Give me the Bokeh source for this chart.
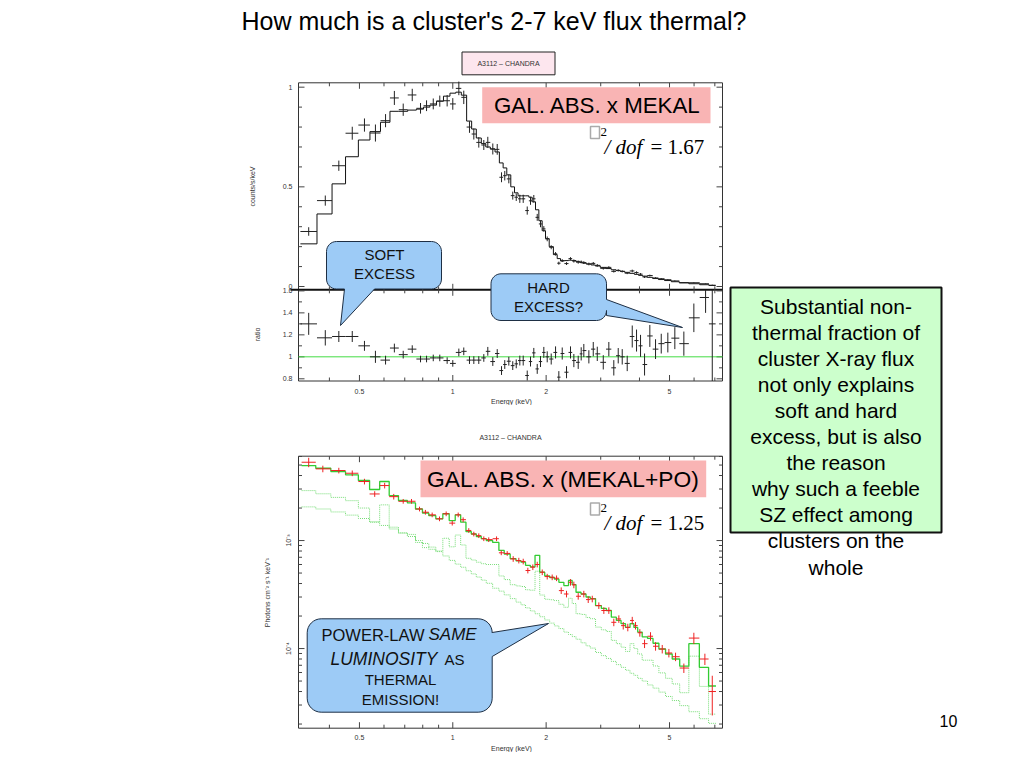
import math
from bokeh.plotting import figure
from bokeh.models import Range1d, LogScale, LinearScale
from bokeh.embed import file_html
from bokeh.resources import INLINE
from bokeh.core.properties import value

# ====================== DATA ======================
# Upper panel (counts/s/keV) and ratio panel share one energy binning (keV, bin centres)
E_bins = [0.343, 0.388, 0.429, 0.474, 0.519, 0.563, 0.607, 0.648, 0.692, 0.740,
          0.787, 0.823, 0.865, 0.908, 0.959, 1.000, 1.046, 1.085, 1.132, 1.169,
          1.213, 1.259, 1.297, 1.346, 1.391, 1.436, 1.471, 1.516, 1.561, 1.602,
          1.645, 1.687, 1.738, 1.781, 1.825, 1.872, 1.918, 1.966, 2.016, 2.077,
          2.145, 2.198, 2.254, 2.327, 2.397, 2.457, 2.538, 2.595, 2.646, 2.747,
          2.838, 2.924, 3.057, 3.186, 3.306, 3.416, 3.519, 3.652, 3.791, 3.914,
          4.032, 4.154, 4.320, 4.507, 4.702, 4.938, 5.201, 5.561, 5.990, 6.535, 6.868]
cnt_model = [0.214, 0.364, 0.515, 0.651, 0.735, 0.777, 0.824, 0.879, 0.879, 0.885,
             0.890, 0.900, 0.910, 0.930, 0.955, 0.970, 0.975, 0.960, 0.830, 0.790,
             0.745, 0.717, 0.700, 0.690, 0.675, 0.620, 0.595, 0.560, 0.500, 0.470,
             0.455, 0.455, 0.455, 0.448, 0.425, 0.385, 0.330, 0.280, 0.240, 0.200,
             0.160, 0.140, 0.128, 0.130, 0.132, 0.130, 0.126, 0.121, 0.117, 0.113,
             0.108, 0.103, 0.096, 0.090, 0.084, 0.080, 0.076, 0.071, 0.066, 0.061,
             0.056, 0.052, 0.046, 0.040, 0.035, 0.030, 0.024, 0.018, 0.014, 0.009, 0.005]
cnt_data = [0.276, 0.431, 0.606, 0.769, 0.810, 0.770, 0.832, 0.946, 0.887, 0.961,
            0.894, 0.907, 0.916, 0.930, 0.932, 0.916, 0.994, 0.949, 0.800, 0.765,
            0.723, 0.710, 0.723, 0.690, 0.688, 0.548, 0.556, 0.540, 0.456, 0.448,
            0.440, 0.440, 0.381, 0.430, 0.440, 0.347, 0.314, 0.289, 0.239, 0.197,
            0.164, 0.117, 0.130, 0.115, 0.140, 0.128, 0.122, 0.123, 0.120, 0.113,
            0.116, 0.106, 0.091, 0.096, 0.076, 0.081, 0.076, 0.067, 0.078, 0.070,
            0.062, 0.048, 0.055, 0.043, 0.039, 0.034, 0.028, 0.020, 0.019, 0.014, 0.0065]
ratio = [1.30, 1.173, 1.185, 1.185, 1.10, 1.00, 0.97, 1.08, 1.02, 1.07,
         0.98, 0.98, 0.99, 0.99, 0.966, 0.94, 1.04, 1.05, 0.97, 0.97,
         0.97, 0.99, 1.05, 0.957, 1.03, 0.875, 0.93, 0.96, 0.92, 0.936,
         0.966, 0.966, 0.83, 0.957, 1.036, 0.89, 0.957, 1.04, 1.00, 0.98,
         1.04, 0.815, 1.03, 0.86, 1.04, 0.966, 0.95, 1.027, 1.057, 1.00,
         1.07, 1.027, 0.95, 1.07, 0.90, 1.01, 1.00, 0.94, 1.185, 1.148,
         1.10, 0.93, 1.19, 1.07, 1.12, 1.13, 1.17, 1.12, 1.355, 1.54, 1.30]
ratio_err = [0.10, 0.07, 0.05, 0.05, 0.045, 0.055, 0.04, 0.04, 0.035, 0.035,
             0.03, 0.03, 0.03, 0.03, 0.03, 0.03, 0.035, 0.035, 0.035, 0.035,
             0.035, 0.035, 0.04, 0.04, 0.04, 0.04, 0.04, 0.04, 0.04, 0.04,
             0.045, 0.045, 0.045, 0.045, 0.045, 0.045, 0.05, 0.05, 0.05, 0.05,
             0.055, 0.055, 0.055, 0.055, 0.055, 0.06, 0.06, 0.06, 0.06, 0.06,
             0.065, 0.065, 0.065, 0.065, 0.07, 0.07, 0.07, 0.07, 0.10, 0.10,
             0.10, 0.10, 0.10, 0.09, 0.09, 0.09, 0.10, 0.11, 0.13, 0.14, 0.55]

# Lower panel (unfolded spectrum, photons cm^-2 s^-1 keV^-1)
ph_E = [0.343, 0.381, 0.429, 0.474, 0.519, 0.560, 0.603, 0.645, 0.692, 0.736,
        0.781, 0.816, 0.858, 0.906, 0.952, 0.996, 1.041, 1.080, 1.126, 1.169,
        1.213, 1.259, 1.306, 1.384, 1.433, 1.498, 1.566, 1.633, 1.687, 1.746,
        1.812, 1.872, 1.943, 2.016, 2.092, 2.161, 2.237, 2.327, 2.397, 2.457,
        2.538, 2.646, 2.734, 2.817, 2.958, 3.070, 3.186, 3.306, 3.432, 3.546,
        3.668, 3.791, 3.885, 4.011, 4.154, 4.342, 4.507, 4.737, 4.976, 5.229,
        5.561, 5.990, 6.501, 6.868]
ph_data = [5.31e-3, 4.61e-3, 4.45e-3, 4.20e-3, 3.52e-3, 2.70e-3, 3.23e-3, 2.55e-3, 2.31e-3, 2.31e-3,
           1.96e-3, 1.83e-3, 1.73e-3, 1.59e-3, 1.77e-3, 1.45e-3, 1.73e-3, 1.56e-3, 1.24e-3, 1.15e-3,
           1.11e-3, 1.04e-3, 1.02e-3, 1.04e-3, 7.7e-4, 7.6e-4, 6.76e-4, 6.53e-4, 6.4e-4, 5.28e-4,
           5.67e-4, 6.0e-4, 5.09e-4, 4.64e-4, 4.57e-4, 4.48e-4, 3.44e-4, 3.2e-4, 4.11e-4, 3.89e-4,
           3.05e-4, 3.2e-4, 2.84e-4, 2.88e-4, 2.5e-4, 2.25e-4, 2.25e-4, 1.75e-4, 1.88e-4, 1.63e-4,
           1.57e-4, 1.82e-4, 1.63e-4, 1.40e-4, 1.11e-4, 1.30e-4, 1.05e-4, 9.9e-5, 9.1e-5, 8.4e-5,
           6.6e-5, 1.25e-4, 8.0e-5, 4.0e-5]
ph_err = [0.10, 0.07, 0.06, 0.06, 0.06, 0.06, 0.06, 0.06, 0.05, 0.05,
          0.05, 0.05, 0.05, 0.05, 0.05, 0.05, 0.05, 0.05, 0.05, 0.05,
          0.05, 0.05, 0.05, 0.05, 0.05, 0.05, 0.06, 0.06, 0.06, 0.06,
          0.06, 0.06, 0.06, 0.06, 0.06, 0.06, 0.07, 0.07, 0.07, 0.07,
          0.07, 0.07, 0.07, 0.07, 0.07, 0.07, 0.07, 0.08, 0.08, 0.08,
          0.08, 0.08, 0.08, 0.08, 0.09, 0.09, 0.09, 0.09, 0.09, 0.09,
          0.10, 0.12, 0.12, 0.40]
ph_model = [4.95e-3, 4.67e-3, 4.35e-3, 4.06e-3, 3.60e-3, 2.97e-3, 3.52e-3, 2.61e-3, 2.35e-3, 2.23e-3,
            1.96e-3, 1.80e-3, 1.70e-3, 1.59e-3, 1.77e-3, 1.53e-3, 1.73e-3, 1.48e-3, 1.21e-3, 1.15e-3,
            1.09e-3, 1.04e-3, 1.00e-3, 9.6e-4, 8.1e-4, 7.5e-4, 6.8e-4, 6.5e-4, 6.3e-4, 5.9e-4,
            5.7e-4, 7.3e-4, 5.1e-4, 4.7e-4, 4.55e-4, 4.4e-4, 4.1e-4, 3.83e-4, 4.27e-4, 3.9e-4,
            3.32e-4, 3.2e-4, 3.0e-4, 2.9e-4, 2.5e-4, 2.35e-4, 2.25e-4, 1.95e-4, 1.82e-4, 1.7e-4,
            1.57e-4, 1.7e-4, 1.57e-4, 1.42e-4, 1.28e-4, 1.24e-4, 1.12e-4, 9.9e-5, 8.9e-5, 8.0e-5,
            6.86e-5, 1.11e-4, 6.7e-5, 4.5e-5]
ph_powerlaw = [2.05e-3, 1.96e-3, 1.84e-3, 1.72e-3, 1.60e-3, 1.49e-3, 1.38e-3, 1.28e-3, 1.18e-3, 1.09e-3,
               1.00e-3, 9.4e-4, 8.7e-4, 7.9e-4, 7.2e-4, 6.55e-4, 6.05e-4, 5.66e-4, 5.25e-4, 4.91e-4,
               4.59e-4, 4.30e-4, 4.02e-4, 3.62e-4, 3.40e-4, 3.14e-4, 2.90e-4, 2.69e-4, 2.54e-4, 2.38e-4,
               2.23e-4, 2.10e-4, 1.97e-4, 1.84e-4, 1.72e-4, 1.62e-4, 1.53e-4, 1.42e-4, 1.35e-4, 1.29e-4,
               1.22e-4, 1.13e-4, 1.06e-4, 1.01e-4, 9.2e-5, 8.6e-5, 8.1e-5, 7.6e-5, 7.1e-5, 6.7e-5,
               6.3e-5, 5.9e-5, 5.65e-5, 5.3e-5, 5.0e-5, 4.6e-5, 4.3e-5, 3.95e-5, 3.6e-5, 3.3e-5,
               2.96e-5, 2.6e-5, 2.24e-5, 2.03e-5]
ph_mekal = [2.90e-3, 2.71e-3, 2.51e-3, 2.34e-3, 2.00e-3, 1.48e-3, 2.14e-3, 1.33e-3, 1.17e-3, 1.14e-3,
            9.6e-4, 8.6e-4, 8.3e-4, 8.0e-4, 1.05e-3, 8.75e-4, 1.125e-3, 9.1e-4, 6.85e-4, 6.6e-4,
            6.3e-4, 6.1e-4, 6.0e-4, 6.0e-4, 4.7e-4, 4.35e-4, 3.9e-4, 3.8e-4, 3.75e-4, 3.5e-4,
            3.47e-4, 5.2e-4, 3.13e-4, 2.86e-4, 2.83e-4, 2.78e-4, 2.57e-4, 2.41e-4, 2.92e-4, 2.61e-4,
            2.1e-4, 2.07e-4, 1.94e-4, 1.89e-4, 1.58e-4, 1.49e-4, 1.44e-4, 1.19e-4, 1.11e-4, 1.03e-4,
            9.4e-5, 1.11e-4, 1.0e-4, 8.9e-5, 7.8e-5, 7.8e-5, 6.9e-5, 5.95e-5, 5.3e-5, 4.7e-5,
            3.9e-5, 8.5e-5, 4.46e-5, 2.47e-5]

# axis limits and tick labels
E_LO, E_HI = 0.318, 7.41
CNT_LO, CNT_HI = -0.0165, 1.022
RAT_LO, RAT_HI = 0.78, 1.61
PH_LO, PH_HI = 1.83e-5, 6.04e-3
X_MAJOR = [0.5, 1, 2, 5]
X_LABELS = ["0.5", "1", "2", "5"]
X_MINOR = [0.4, 0.6, 0.7, 0.8, 0.9, 3, 4, 6, 7]
CNT_MAJOR = [0, 0.5, 1]
CNT_LABELS = ["0", "0.5", "1"]
CNT_MINOR = [0.1, 0.2, 0.3, 0.4, 0.6, 0.7, 0.8, 0.9]
RAT_MAJOR = [0.8, 1.0, 1.2, 1.4, 1.6]
RAT_LABELS = ["0.8", "1", "1.2", "1.4", "1.6"]
RAT_MINOR = [0.9, 1.1, 1.3, 1.5]
PH_MAJOR = [1e-4, 1e-3]
PH_LABELS = ["10\u207b\u2074", "10\u207b\u00b3"]
PH_MINOR = [m * d for d in (1e-5, 1e-4, 1e-3) for m in range(2, 10) if PH_LO < m * d < PH_HI]

# ====================== LAYOUT ======================
W, H = 1008, 752
OFF = 0
# panel boxes in page pixels
PX_L, PX_R = 298.0, 722.0
TOP_T, TOP_B = 82.3, 289.3
RAT_T, RAT_B = 289.3, 380.5
PH_T, PH_B = 455.7, 727.7

p = figure(width=W, height=H, output_backend="svg", toolbar_location=None,
           x_range=Range1d(OFF, OFF + W), y_range=Range1d(OFF + H, OFF),
           min_border=0, x_axis_location=None, y_axis_location=None)
p.outline_line_color = None
p.background_fill_color = "white"
p.border_fill_color = "white"
p.grid.visible = False


def energy_range():
    a, b = math.log10(E_LO), math.log10(E_HI)
    k = (b - a) / (PX_R - PX_L)
    return Range1d(10 ** (a + (OFF - PX_L) * k), 10 ** (a + (OFF + W - PX_L) * k))


def value_range(py_t, py_b, v_t, v_b, log=False):
    if log:
        v_t, v_b = math.log10(v_t), math.log10(v_b)
    k = (v_t - v_b) / (py_b - py_t)
    start = v_b - (OFF + H - py_b) * k
    end = v_t + (py_t - OFF) * k
    if log:
        return Range1d(10 ** start, 10 ** end)
    return Range1d(start, end)


p.extra_x_ranges = {"E": energy_range()}
p.extra_x_scales = {"E": LogScale()}
p.extra_y_ranges = {"cnt": value_range(TOP_T, TOP_B, CNT_HI, CNT_LO),
                    "rat": value_range(RAT_T, RAT_B, RAT_HI, RAT_LO),
                    "ph": value_range(PH_T, PH_B, PH_HI, PH_LO, log=True)}
p.extra_y_scales = {"cnt": LinearScale(), "rat": LinearScale(), "ph": LogScale()}

SANS = "Liberation Sans"
SERIF = "Liberation Serif"


def txt(x, y, s, size, font=SANS, color="black", align="center", baseline="middle",
        angle=0.0, style="normal", xr="default", yr="default"):
    xs = x if isinstance(x, list) else [x]
    ys = y if isinstance(y, list) else [y]
    ss = s if isinstance(s, list) else [s]
    p.text(x=xs, y=ys, text=ss, text_font=value(font), text_font_size=value(f"{size}px"),
           text_color=color, text_align=align, text_baseline=baseline, angle=angle,
           text_font_style=style, x_range_name=xr, y_range_name=yr)


def edges_from_centers(c):
    e = [math.sqrt(c[i] * c[i + 1]) for i in range(len(c) - 1)]
    return [c[0] ** 2 / e[0]] + e + [c[-1] ** 2 / e[-1]]


# ---------- panel frames ----------
p.quad(left=PX_L, right=PX_R, top=TOP_T, bottom=RAT_B, fill_color=None,
       line_color="#333333", line_width=1)
p.quad(left=PX_L, right=PX_R, top=PH_T, bottom=PH_B, fill_color=None,
       line_color="#333333", line_width=1)
p.segment(x0=[PX_L - 8], x1=[PX_R], y0=[TOP_B], y1=[TOP_B], line_color="#111111", line_width=2)


# ---------- ticks ----------
def xticks(py_b, py_t, major=6, minor=3.5, color="#444444"):
    for vals, L in ((X_MAJOR, major), (X_MINOR, minor)):
        n = len(vals)
        p.segment(x0=vals, x1=vals, y0=[py_b] * n, y1=[py_b - L] * n, x_range_name="E",
                  line_color=color, line_width=1)
        p.segment(x0=vals, x1=vals, y0=[py_t] * n, y1=[py_t + L] * n, x_range_name="E",
                  line_color=color, line_width=1)


def yticks(name, majors, minors, major=6, minor=3.5, color="#444444"):
    for vals, L in ((majors, major), (minors, minor)):
        n = len(vals)
        p.segment(x0=[PX_L] * n, x1=[PX_L + L] * n, y0=vals, y1=vals, y_range_name=name,
                  line_color=color, line_width=1)
        p.segment(x0=[PX_R] * n, x1=[PX_R - L] * n, y0=vals, y1=vals, y_range_name=name,
                  line_color=color, line_width=1)


xticks(TOP_B, TOP_T)
xticks(RAT_B, RAT_T)
xticks(PH_B, PH_T)
yticks("cnt", CNT_MAJOR, CNT_MINOR)
yticks("rat", RAT_MAJOR, RAT_MINOR)
yticks("ph", PH_MAJOR, PH_MINOR)

# tick labels
TL = "#333333"
txt(X_MAJOR, [391] * 4, X_LABELS, 7, color=TL, xr="E")
txt(X_MAJOR, [737] * 4, X_LABELS, 7, color=TL, xr="E")
txt([292] * 3, CNT_MAJOR, CNT_LABELS, 7, color=TL, align="right", yr="cnt")
txt([292] * 5, RAT_MAJOR, RAT_LABELS, 7, color=TL, align="right", yr="rat")
txt([288] * 2, PH_MAJOR, PH_LABELS, 7, color=TL, angle=math.pi / 2, yr="ph")

# axis titles
txt(252, 186, "counts/s/keV", 7, color=TL, angle=math.pi / 2)
txt(257, 334, "ratio", 7, color=TL, angle=math.pi / 2)
txt(267, 592, "Photons cm\u207b\u00b2 s\u207b\u00b9 keV\u207b\u00b9", 7, color=TL, angle=math.pi / 2)
txt(511, 401, "Energy (keV)", 7, color=TL)
p.quad(left=470, right=560, top=404.5, bottom=414, fill_color="white", line_color=None)
txt(511, 748, "Energy (keV)", 7, color=TL)

# ---------- upper panel: counts ----------
ed = edges_from_centers(E_bins)
p.step(x=ed, y=cnt_model + [cnt_model[-1]], mode="after", x_range_name="E", y_range_name="cnt",
       line_color="#111111", line_width=1)
cnt_err = [r * m for r, m in zip(ratio_err, cnt_model)]  # ratio error = data error / model
p.segment(x0=ed[:-1], x1=ed[1:], y0=cnt_data, y1=cnt_data, x_range_name="E", y_range_name="cnt",
          line_color="#222222", line_width=1)
p.segment(x0=E_bins, x1=E_bins, y0=[d - e for d, e in zip(cnt_data, cnt_err)],
          y1=[d + e for d, e in zip(cnt_data, cnt_err)], x_range_name="E", y_range_name="cnt",
          line_color="#222222", line_width=1)

# ---------- ratio panel ----------
p.segment(x0=[E_LO], x1=[E_HI], y0=[1.0], y1=[1.0], x_range_name="E", y_range_name="rat",
          line_color="#44dd44", line_width=1)
p.segment(x0=ed[:-1], x1=ed[1:], y0=ratio, y1=ratio, x_range_name="E", y_range_name="rat",
          line_color="#222222", line_width=1)
p.segment(x0=E_bins, x1=E_bins, y0=[max(RAT_LO, r - e) for r, e in zip(ratio, ratio_err)],
          y1=[min(RAT_HI, r + e) for r, e in zip(ratio, ratio_err)], x_range_name="E",
          y_range_name="rat", line_color="#222222", line_width=1)

# ---------- lower panel: unfolded spectrum ----------
ped = edges_from_centers(ph_E)
for comp in (ph_mekal, ph_powerlaw):
    p.step(x=ped, y=comp + [comp[-1]], mode="after", x_range_name="E", y_range_name="ph",
           line_color="#77dd77", line_width=1, line_dash="1 1")
p.step(x=ped, y=ph_model + [ph_model[-1]], mode="after", x_range_name="E", y_range_name="ph",
       line_color="#33cc33", line_width=1.3)
RED = "#ee2222"
p.segment(x0=ped[:-1], x1=ped[1:], y0=ph_data, y1=ph_data, x_range_name="E", y_range_name="ph",
          line_color=RED, line_width=1)
p.segment(x0=ph_E, x1=ph_E, y0=[max(PH_LO, d * (1 - e)) for d, e in zip(ph_data, ph_err)],
          y1=[d * (1 + e) for d, e in zip(ph_data, ph_err)], x_range_name="E", y_range_name="ph",
          line_color=RED, line_width=1)

# ====================== SLIDE DECORATIONS ======================
txt(493.5, 20, "How much is a cluster's 2-7 keV flux thermal?", 25)

p.quad(left=461.5, right=554.5, top=51.5, bottom=74.3, fill_color="#fde6ee", line_color="#222222",
       line_width=1)
txt(508, 63, "A3112 \u2013 CHANDRA", 7, color="#333333")
txt(510, 437, "A3112 \u2013 CHANDRA", 7, color="#333333")

# model labels
PINK = "#f9b4b4"
p.quad(left=481.7, right=710, top=86.7, bottom=122.7, fill_color=PINK, line_color=None)
txt(597, 104.5, "GAL. ABS. x MEKAL", 22.3)
p.quad(left=420, right=705.7, top=460, bottom=496.7, fill_color=PINK, line_color=None)
txt(563, 478.5, "GAL. ABS. x (MEKAL+PO)", 22.8)


def chi_label(y_base, val):
    p.quad(left=590, right=599, top=y_base - 20, bottom=y_base - 8, fill_color=None,
           line_color="#aaaaaa", line_width=1.5)
    txt(600, y_base - 15, "2", 13, font=SERIF, align="left", baseline="alphabetic")
    txt(604, y_base, "/ dof", 21, font=SERIF, align="left", baseline="alphabetic", style="italic")
    txt(650, y_base, "= " + val, 21, font=SERIF, align="left", baseline="alphabetic")


chi_label(146, "1.67")
chi_label(522.5, "1.25")


def callout(x0, y0, x1, y1, r, edge, a, b, tip):
    pts = []

    def arc(cx, cy, a0, a1):
        for k in range(9):
            t = math.radians(a0 + (a1 - a0) * k / 8)
            pts.append((cx + r * math.cos(t), cy + r * math.sin(t)))

    arc(x1 - r, y0 + r, -90, 0)
    if edge == "right":
        pts.extend([(x1, a), tip, (x1, b)])
    arc(x1 - r, y1 - r, 0, 90)
    if edge == "bottom":
        pts.extend([(b, y1), tip, (a, y1)])
    arc(x0 + r, y1 - r, 90, 180)
    arc(x0 + r, y0 + r, 180, 270)
    p.patch(x=[q[0] for q in pts], y=[q[1] for q in pts], fill_color="#9dcbf6",
            line_color="#1e2f44", line_width=1)


BLUE_TXT = "#111111"
callout(326, 241, 441, 288.5, 10, "bottom", 344, 374, (340, 325))
txt(384, 254, "SOFT", 15, color=BLUE_TXT)
txt(384, 273, "EXCESS", 15, color=BLUE_TXT)

callout(490.5, 273.3, 606, 320, 10, "right", 299, 315, (682, 327))
txt(548, 287, "HARD", 15, color=BLUE_TXT)
txt(548, 305.5, "EXCESS?", 15, color=BLUE_TXT)

callout(306.7, 618.3, 491.7, 711.7, 14, "right", 632, 656, (548, 623))
txt(321, 634, "POWER-LAW", 16.5, align="left", color=BLUE_TXT)
txt(428, 634, "SAME", 17, align="left", style="italic", color=BLUE_TXT)
txt(330, 658, "LUMINOSITY", 17.5, align="left", style="italic", color=BLUE_TXT)
txt(444, 659, "AS", 15, align="left", color=BLUE_TXT)
txt(400, 678.5, "THERMAL", 15, color=BLUE_TXT)
txt(400, 698.5, "EMISSION!", 15, color=BLUE_TXT)

# green statement box
p.quad(left=730, right=941, top=287, bottom=532, fill_color="#ccffcc", line_color=None)
lines = ["Substantial non-", "thermal fraction of", "cluster X-ray flux", "not only explains",
         "soft and hard", "excess, but is also", "the reason", "why such a feeble",
         "SZ effect among", "clusters on the", "whole"]
txt([835.5] * len(lines), [305.5 + 26.1 * i for i in range(len(lines))], lines, 21)
p.quad(left=730, right=941, top=287, bottom=532, fill_color=None, line_color="#111111",
       line_width=2)

txt(948, 720, "10", 16)

open("out.html", "w").write(file_html(p, INLINE))
